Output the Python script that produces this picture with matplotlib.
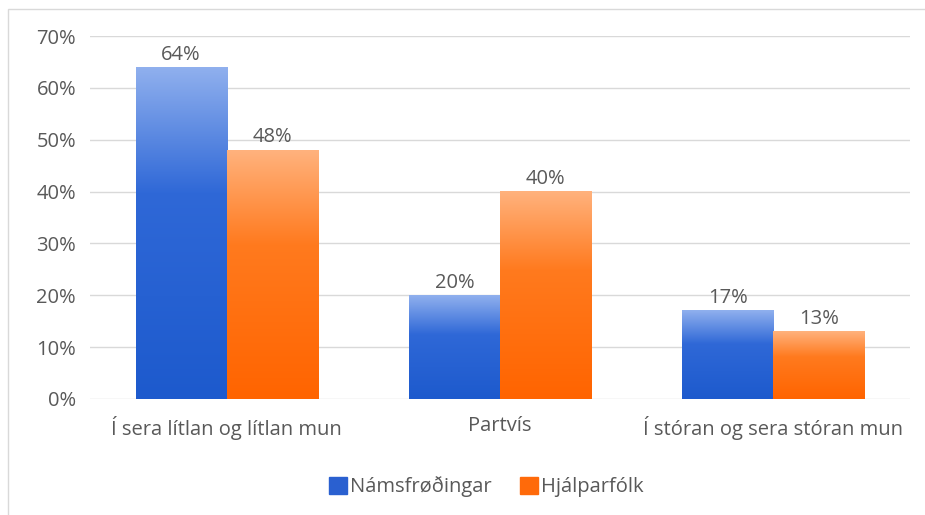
import numpy as np
import matplotlib.pyplot as plt
from matplotlib.colors import LinearSegmentedColormap
from matplotlib.patches import Rectangle

categories = ['Í sera lítlan og lítlan mun', 'Partvís', 'Í stóran og sera stóran mun']
series = ['Námsfrøðingar', 'Hjálparfólk']
values = {
    'Námsfrøðingar': [64, 20, 17],
    'Hjálparfólk': [48, 40, 13],
}
# gradient stops: bottom, middle, top
grad_colors = {
    'Námsfrøðingar': [(0.0, '#1d5acd'), (0.62, '#2f68d7'), (1.0, '#90b0ee')],
    'Hjálparfólk': [(0.0, '#ff6400'), (0.62, '#ff7a1e'), (1.0, '#ffb27d')],
}
legend_colors = {'Námsfrøðingar': '#2a60d0', 'Hjálparfólk': '#ff6a0a'}

plt.rcParams['font.family'] = ['Open Sans', 'DejaVu Sans']
text_color = '#595959'
fs = 14.5

fig = plt.figure(figsize=(9.25, 5.15), dpi=100)
ax = fig.add_axes([90 / 925, 1 - 399 / 515, 820 / 925, 363 / 515])

# outer frame
fig.patches.append(Rectangle((8 / 925, -0.1), 1.1, 1 - 9 / 515 + 0.1, transform=fig.transFigure,
                             fill=False, edgecolor='#d9d9d9', lw=1))

x = np.arange(len(categories))
w = 1 / 3
grad = np.linspace(0, 1, 256).reshape(-1, 1)
for i, s in enumerate(series):
    cmap = LinearSegmentedColormap.from_list(s, grad_colors[s])
    for xi, v in zip(x, values[s]):
        x0 = xi - w + i * w
        ax.imshow(grad, extent=(x0, x0 + w, 0, v), origin='lower', cmap=cmap,
                  aspect='auto', zorder=3)
        ax.text(x0 + w / 2, v + 0.5, f'{v}%', ha='center', va='bottom',
                fontsize=fs, color=text_color, zorder=4)

ax.set_xlim(-0.5, 2.5)
ax.set_ylim(0, 70)
ax.set_yticks(np.arange(0, 71, 10))
ax.set_yticklabels([f'{t}%' for t in range(0, 71, 10)])
ax.set_xticks(x)
ax.set_xticklabels(categories)
ax.grid(axis='y', color='#d9d9d9', lw=1)
ax.set_axisbelow(True)
for sp in ax.spines.values():
    sp.set_visible(False)
ax.tick_params(length=0, labelsize=fs, labelcolor=text_color)
ax.tick_params(axis='y', pad=10)
ax.tick_params(axis='x', pad=12)

handles = [Rectangle((0, 0), 1, 1, color=legend_colors[s]) for s in series]
fig.legend(handles, series, loc='center', bbox_to_anchor=(486 / 925, 1 - 487 / 515), ncol=2,
           frameon=False, fontsize=fs, labelcolor=text_color, handlelength=0.9,
           handleheight=0.9, handletextpad=0.15, columnspacing=1.4)

fig.savefig('out.png', dpi=100, facecolor='white')
